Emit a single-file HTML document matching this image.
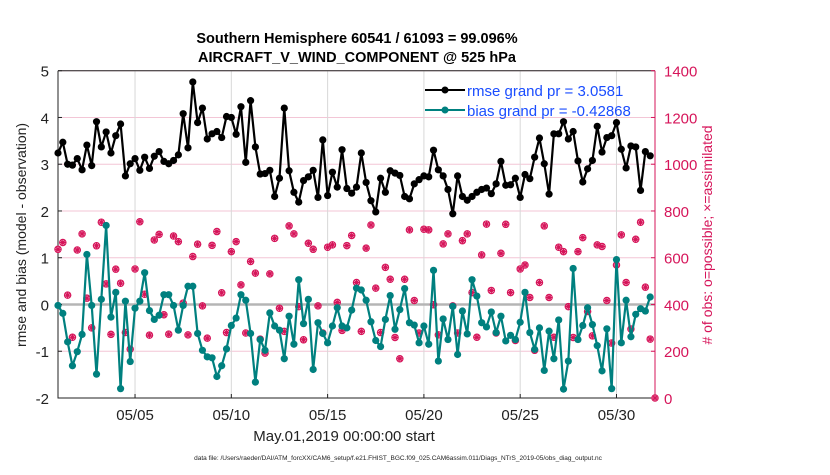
<!DOCTYPE html>
<html><head><meta charset="utf-8"><style>
body{margin:0;background:#fff;width:830px;height:470px;overflow:hidden;font-family:"Liberation Sans",sans-serif}
</style></head><body>
<svg id="chart" width="830" height="470" xmlns="http://www.w3.org/2000/svg" font-family="Liberation Sans, sans-serif">
<text x="357" y="43" text-anchor="middle" font-size="14.5" font-weight="bold">Southern Hemisphere 60541 / 61093 = 99.096%</text>
<text x="357" y="62" text-anchor="middle" font-size="14.5" font-weight="bold">AIRCRAFT_V_WIND_COMPONENT @ 525 hPa</text>
<g id="grid"></g><g id="axes"></g><g id="series"></g>
<text x="344" y="441" text-anchor="middle" font-size="15" fill="#222">May.01,2019 00:00:00 start</text>
<text x="398" y="460" text-anchor="middle" font-size="6.5" fill="#222">data file: /Users/raeder/DAI/ATM_forcXX/CAM6_setup/f.e21.FHIST_BGC.f09_025.CAM6assim.011/Diags_NTrS_2019-05/obs_diag_output.nc</text>
<text transform="translate(26,235) rotate(-90)" text-anchor="middle" font-size="14" fill="#222">rmse and bias (model - observation)</text>
<text transform="translate(712,235) rotate(-90)" text-anchor="middle" font-size="14" fill="#d6155a"># of obs: o=possible; ×=assimilated</text>
<g>
<line x1="425" y1="90" x2="465" y2="90" stroke="#000" stroke-width="2"/><circle cx="445" cy="90" r="3.5" fill="#000"/>
<text x="467" y="96" font-size="15" fill="#1a4dff">rmse grand pr = 3.0581</text>
<line x1="425" y1="110" x2="465" y2="110" stroke="#00807f" stroke-width="2"/><circle cx="445" cy="110" r="3.5" fill="#00807f"/>
<text x="467" y="116" font-size="15" fill="#1a4dff">bias grand pr = -0.42868</text>
</g>
</svg>
<script>
const rmse=[3.24,3.47,3.00,2.98,3.12,2.88,3.41,2.97,3.91,3.37,3.69,3.24,3.61,3.86,2.75,3.01,3.12,2.87,3.15,2.91,3.17,3.27,3.06,3.01,3.08,3.20,4.08,3.35,4.76,3.89,4.20,3.54,3.65,3.70,3.57,4.02,4.00,3.64,4.23,3.04,4.36,3.37,2.79,2.80,2.87,2.31,2.70,4.20,2.86,2.40,2.19,2.65,2.73,2.87,2.29,3.52,2.33,2.83,2.51,3.31,2.48,2.38,2.51,3.24,2.61,2.22,1.98,2.70,2.40,2.86,2.81,2.76,2.31,2.26,2.58,2.67,2.75,2.73,3.30,2.88,2.75,2.46,1.94,2.75,2.31,2.23,2.31,2.40,2.46,2.49,2.37,2.58,3.06,2.55,2.56,2.70,2.29,2.78,2.69,3.15,3.56,3.01,2.36,3.65,3.65,3.91,3.54,3.70,3.07,2.62,2.90,3.08,3.81,3.26,3.57,3.61,3.89,3.32,2.92,3.39,3.37,2.44,3.27,3.18];
const bias=[-0.02,-0.19,-0.80,-1.31,-1.01,-0.64,1.07,-0.02,-1.49,0.11,1.69,-0.27,0.26,-1.80,0.07,-1.22,-0.08,0.07,0.68,-0.13,-0.32,-0.23,0.21,0.21,-0.02,-0.55,-0.02,0.39,0.39,-0.62,-0.98,-1.12,-1.14,-1.54,-1.31,-0.95,-0.45,-0.29,0.21,0.09,-0.62,-1.66,-0.75,-0.98,-0.18,-0.46,-0.55,-1.16,-0.25,-0.85,0.53,-0.41,0.11,-1.39,-0.39,-0.62,-0.82,-0.46,-0.07,-0.46,-0.50,-0.12,0.35,0.31,0.09,-0.37,-0.77,-0.90,-0.32,0.19,-0.53,-0.11,0.34,-0.39,-0.44,-0.82,-0.46,-0.85,0.73,-1.21,-0.31,-0.75,-0.04,-1.07,-0.14,-0.63,0.53,0.18,-0.39,-0.48,-0.16,-0.60,-0.25,-0.78,-0.66,-0.75,-0.38,0.26,-0.60,-0.96,-0.50,-1.41,-0.57,-1.16,-0.33,-1.81,-1.21,0.77,-0.75,-0.45,-0.07,-0.43,-0.88,-1.42,-0.52,-1.80,0.96,-0.82,0.09,-0.69,-0.21,-0.09,-0.14,0.16];
const nobs=[636,665,440,260,633,702,427,300,651,752,488,272,551,491,280,209,552,754,444,269,676,700,356,273,693,669,406,270,605,658,394,256,653,712,450,280,626,669,484,278,584,534,252,192,531,683,384,285,736,702,391,249,662,636,394,278,645,655,409,289,652,695,494,285,641,740,470,280,559,508,259,168,508,719,417,278,722,719,399,270,659,702,394,278,673,702,451,260,612,744,460,278,619,743,451,246,552,569,430,204,494,736,430,260,645,626,391,259,626,686,370,266,655,648,417,235,569,698,494,295,679,752,474,252,0];
const yTicks=[5,4,3,2,1,0,-1,-2];
const rTicks=[1400,1200,1000,800,600,400,200,0];
const xTickDays=[4,9,14,19,24,29];
const xTickLabels=["05/05","05/10","05/15","05/20","05/25","05/30"];

const NS="http://www.w3.org/2000/svg";
const L=58,R=655,T=70.7,B=398;
const X=d=>L+(d/31)*(R-L);
const Y=v=>B-(v+2)/7*(B-T);
const YR=n=>B-n/1400*(B-T);
function mk(tag,attrs,parent){const e=document.createElementNS(NS,tag);for(const k in attrs)e.setAttribute(k,attrs[k]);document.getElementById(parent).appendChild(e);return e;}
const red="#d6155a",teal="#00807f";
yTicks.forEach(v=>{const g=mk('line',{x1:L,x2:R,y1:Y(v),y2:Y(v),stroke:'#f3c6d6','stroke-width':1},'grid');

});
xTickDays.forEach(d=>{const g=mk('line',{x1:X(d),x2:X(d),y1:T,y2:B,stroke:'#d8d8d8','stroke-width':1},'grid');

});
const z=mk('line',{x1:L,x2:R,y1:Y(0),y2:Y(0),stroke:'#b5b5b5','stroke-width':2.5},'grid');


const fr=mk('path',{d:`M${L},${T}H${R}M${L},${T}V${B}H${R}`,stroke:'#222',fill:'none','stroke-width':1},'axes');


const ra=mk('line',{x1:R,x2:R,y1:T,y2:B,stroke:red,'stroke-width':1},'axes');


yTicks.forEach(v=>{const t=mk('text',{x:L-9,y:Y(v)+6,'text-anchor':'end','font-size':15,fill:'#222'},'axes');t.textContent=v;


mk('line',{x1:L,x2:L+4,y1:Y(v),y2:Y(v),stroke:'#222'},'axes');});
rTicks.forEach(n=>{const t=mk('text',{x:R+9,y:YR(n)+6,'font-size':15,fill:red},'axes');t.textContent=n;


mk('line',{x1:R-4,x2:R,y1:YR(n),y2:YR(n),stroke:red},'axes');});
xTickDays.forEach((d,i)=>{const t=mk('text',{x:X(d),y:420,'text-anchor':'middle','font-size':15,fill:'#222'},'axes');t.textContent=xTickLabels[i];


mk('line',{x1:X(d),x2:X(d),y1:B,y2:B-4,stroke:'#222'},'axes');});
nobs.forEach((n,i)=>{const x=X(i/4),y=YR(n);
const g=mk('g',{},'series');


const c=document.createElementNS(NS,'circle');c.setAttribute('cx',x);c.setAttribute('cy',y);c.setAttribute('r',3.2);c.setAttribute('fill','none');c.setAttribute('stroke',red);c.setAttribute('stroke-width',1.1);g.appendChild(c);
const p=document.createElementNS(NS,'path');p.setAttribute('d',`M${x-3.5},${y}H${x+3.5}M${x},${y-3.5}V${y+3.5}M${x-2.5},${y-2.5}L${x+2.5},${y+2.5}M${x-2.5},${y+2.5}L${x+2.5},${y-2.5}`);p.setAttribute('stroke',red);p.setAttribute('stroke-width',1.2);g.appendChild(p);});
function line(arr,col,name){
const l=mk('polyline',{points:arr.map((v,i)=>X(i/4)+','+Y(v)).join(' '),fill:'none',stroke:col,'stroke-width':2.2,'stroke-linejoin':'round'},'series');


arr.forEach((v,i)=>{const c=mk('circle',{cx:X(i/4),cy:Y(v),r:3.6,fill:col},'series');

});}
line(bias,teal,'bias');
line(rmse,'#000','rmse');
</script>
</body></html>
